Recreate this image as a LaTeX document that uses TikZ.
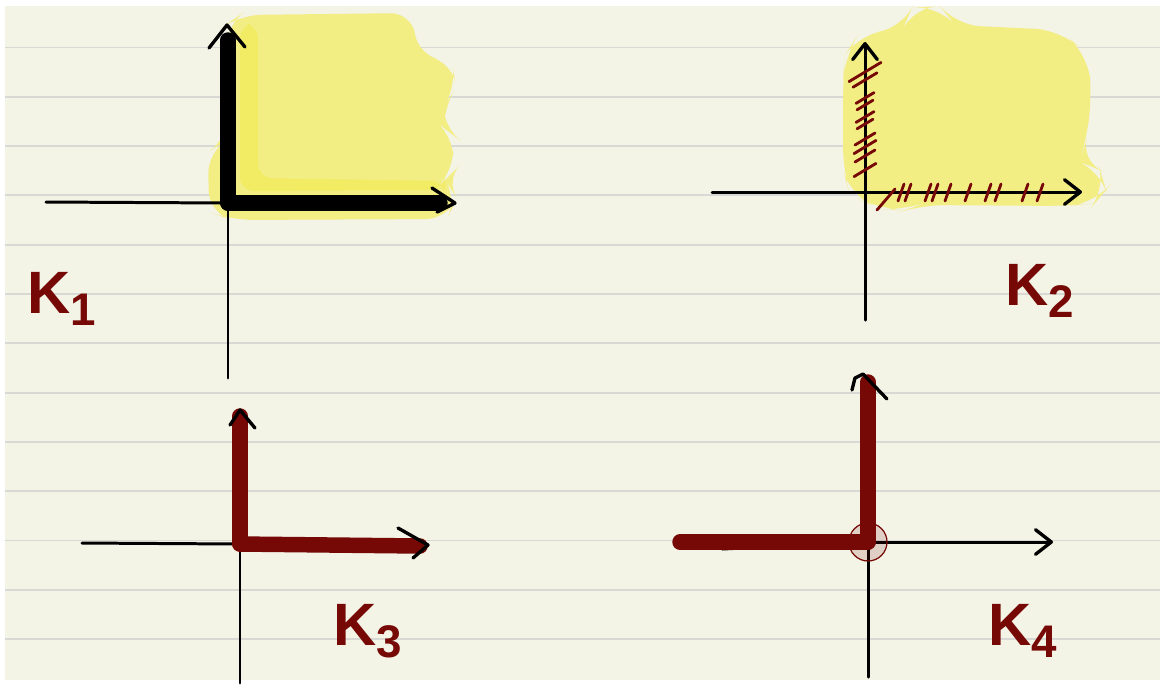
\documentclass[tikz,border=0pt]{standalone}
\usepackage{fontspec}
\setmainfont{Liberation Sans}
\usepackage{xcolor}
\usetikzlibrary{arrows.meta}

\definecolor{paper}{RGB}{243,243,230}
\definecolor{ruling}{RGB}{216,216,212}
\definecolor{hilite}{RGB}{243,238,132}
\definecolor{hilitedark}{RGB}{241,236,100}
\definecolor{ink}{RGB}{118,8,5}

\newcommand{\ksub}[1]{\raisebox{-3.5pt}{\fontsize{13}{13}\selectfont #1}}

\begin{document}
\begin{tikzpicture}[
    x=0.01cm, y=-0.01cm,
    axisline/.style={line width=0.85pt, black, line cap=round},
    thickline/.style={line width=4.4pt, line cap=round, line join=round},
    chevron/.style={line width=0.95pt, black, line cap=round, line join=round},
    smallhead/.style={-{Straight Barb[round, length=4.5pt, width=7pt, line width=0.95pt]}},
    hatchmark/.style={ink, line width=0.8pt, line cap=round},
    klabel/.style={ink, font=\fontsize{17}{17}\selectfont\bfseries, inner sep=0pt, anchor=base west},
]
\useasboundingbox (0,0) rectangle (1164,684);

% Paper
\fill[white] (0,0) rectangle (1164,684);
\fill[paper] (5,6) rectangle (1160,680);
\foreach \i in {0,...,12}
    \draw[ruling, line width=0.55pt] (5,{47.5+49.3*\i}) -- (1160,{47.5+49.3*\i});

% Origins and arrow tips
\coordinate (o1) at (228,203);
\coordinate (o2) at (865,192);
\coordinate (o3) at (240,544);
\coordinate (o4) at (868,542);
\coordinate (t1up) at (227,25);
\coordinate (t1right) at (455,203);
\coordinate (t3up) at (240,410);
\coordinate (t3right) at (428,545);
\coordinate (t4up) at (863,374);

% Highlights
\fill[hilite, rounded corners=6pt] (227,24) -- (240,15) -- (412,13) -- (418,55) -- (452,62)
    -- (456,88) -- (443,108) -- (444,128) -- (453,135) -- (453,172) -- (445,180) -- (457,198)
    -- (447,219) -- (232,220) -- (209,212) -- (208,152) -- (227,140) -- cycle;
\fill[hilitedark, rounded corners=4pt] (240,24) -- (258,24) -- (258,178) -- (445,181)
    -- (445,190) -- (240,191) -- cycle;
\fill[hilite, rounded corners=7pt] (845,55) -- (858,35) -- (903,28) -- (912,8) -- (940,6)
    -- (955,25) -- (1060,30) -- (1088,55) -- (1092,100) -- (1085,145) -- (1080,162)
    -- (1100,170) -- (1106,190) -- (1095,203) -- (1070,206) -- (920,205) -- (905,210)
    -- (880,209) -- (850,195) -- (843,170) -- (843,80) -- cycle;

% K1
\draw[axisline] (46,202) -- (o1);
\draw[axisline] (o1) -- (228,378);
\draw[thickline] (o1) -- (228,40);
\draw[thickline] (o1) -- (440,203);
\draw[chevron] (t1up) ++(-18,23) -- (t1up) -- ++(18,22);
\draw[chevron] (t1right) ++(-23,-15) -- (t1right) -- ++(-18,9);
\node[klabel] (k1) at (27,313) {K\ksub{1}};

% K2
\draw[axisline] (712,192) -- (o2);
\draw[axisline, smallhead] (o2) -- (1082,192);
\draw[axisline, smallhead] (865,320) -- (865,42);
\foreach \y/\d in {72/16, 80/12, 98/9, 105/8, 117/9, 124/8, 139/10, 147/11, 156/10, 170/11}
    \draw[hatchmark] ({865-\d},{\y+0.6*\d}) -- ({865+\d},{\y-0.6*\d});
\draw[hatchmark] (877,210) -- (895,189);
\foreach \x in {901, 908, 928, 935, 948, 968, 988, 998, 1025, 1040}
    \draw[hatchmark] ({\x-3},201) -- ({\x+3},184);
\node[klabel] (k2) at (1005,305) {K\ksub{2}};

% K3
\draw[axisline] (82,543) -- (o3);
\draw[axisline] (o3) -- (240,683);
\draw[thickline, ink] (o3) -- (240,416);
\draw[thickline, ink] (o3) -- (420,546);
\draw[chevron] (t3up) ++(-10,15) -- (t3up) -- ++(15,18);
\draw[chevron] (t3right) ++(-30,-17) -- (t3right) -- ++(-15,13);
\node[klabel] (k3) at (333,645) {K\ksub{3}};

% K4
\draw[axisline] (722,549) -- (o4);
\draw[axisline, smallhead] (o4) -- (1053,542);
\draw[axisline] (o4) -- (868,677);
\draw[thickline, ink] (o4) -- (680,542);
\draw[thickline, ink] (o4) -- (868,382);
\draw[chevron] (852,390) -- (855,378) -- (t4up) -- (887,399);
\draw[ink, line width=0.35pt, fill=ink, fill opacity=0.15] (o4) circle (19);
\node[klabel] (k4) at (988,645) {K\ksub{4}};

\end{tikzpicture}
\end{document}
